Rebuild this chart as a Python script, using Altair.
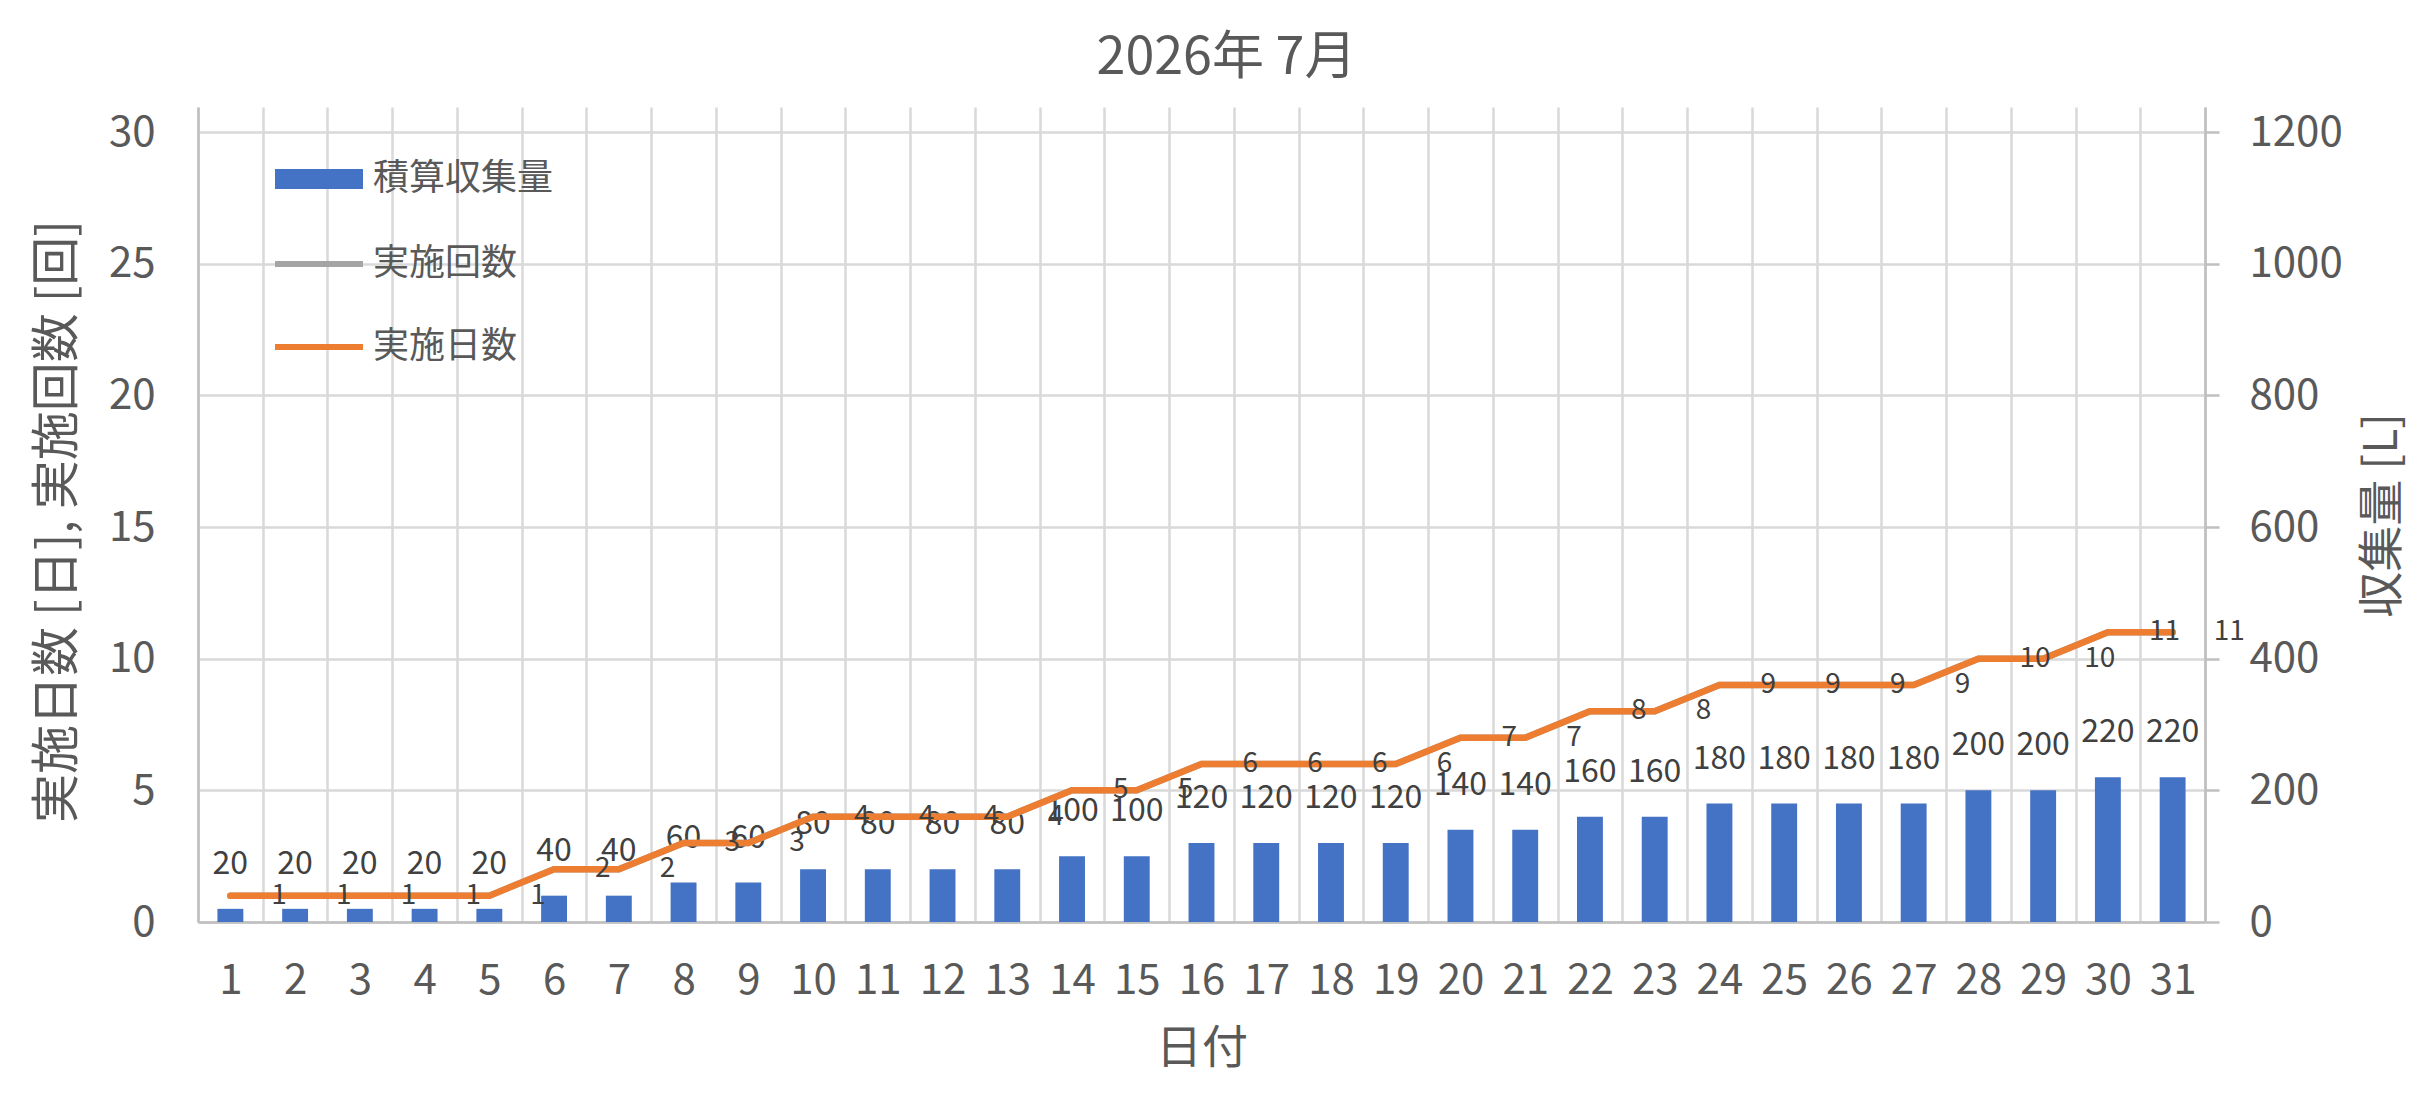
import altair as alt
import pandas as pd

# ---- data ----
days = list(range(1, 32))
cumulative_L = [20, 20, 20, 20, 20, 40, 40, 60, 60, 80, 80, 80, 80, 100, 100,
                120, 120, 120, 120, 140, 140, 160, 160, 180, 180, 180, 180,
                200, 200, 220, 220]
exec_count = [1, 1, 1, 1, 1, 2, 2, 3, 3, 4, 4, 4, 4, 5, 5, 6, 6, 6, 6, 7, 7,
              8, 8, 9, 9, 9, 9, 10, 10, 11, 11]
exec_days = [1, 1, 1, 1, 1, 2, 2, 3, 3, 4, 4, 4, 4, 5, 5, 6, 6, 6, 6, 7, 7,
             8, 8, 9, 9, 9, 9, 10, 10, 11, 11]
series_names = ["積算収集量", "実施回数", "実施日数"]
series_colors = ["#4472C4", "#A5A5A5", "#ED7D31"]
left_ticks = [0, 5, 10, 15, 20, 25, 30]
right_ticks = [0, 200, 400, 600, 800, 1000, 1200]

df = pd.DataFrame({
    "日付": days,
    "積算収集量": cumulative_L,
    "実施回数": exec_count,
    "実施日数": exec_days,
})

FONT = "Noto Sans CJK JP"
TXT = "#595959"
LBL = "#404040"

x_enc = alt.X(
    "日付:O",
    sort=days,
    scale=alt.Scale(paddingInner=0, paddingOuter=0),
    axis=alt.Axis(
        title="日付", labelAngle=0, tickBand="extent", ticks=False,
        grid=True, gridColor="#D9D9D9", gridWidth=2.5,
        domainColor="#BFBFBF", domainWidth=2.5,
        labelPadding=38, labelFontSize=42, labelColor=TXT, labelFont=FONT,
        titleFontSize=46, titleColor=TXT, titleFont=FONT, titleFontWeight="normal",
        titleY=126, titleBaseline="middle",
    ),
)

bar_legend = alt.Legend(
    title=None, orient="none", legendX=77, legendY=28, padding=0,
    symbolType="M-1,-0.227H1V0.227H-1Z", symbolSize=7744, symbolStrokeWidth=0,
    symbolOpacity=1, labelLimit=400,
    labelFont=FONT, labelFontSize=36, labelColor=TXT, labelOffset=10,
)
line_legend = alt.Legend(
    title=None, orient="none", legendX=74, legendY=110, padding=0,
    symbolType="stroke", symbolSize=7744, symbolStrokeWidth=6, symbolOpacity=1,
    labelFont=FONT, labelFontSize=36, labelColor=TXT, labelOffset=7,
    rowPadding=18, labelLimit=400,
)

right_scale = alt.Scale(domain=[0, 1238], nice=False, zero=True)
right_axis = alt.Axis(
    orient="right", values=right_ticks, format="d", grid=False,
    ticks=True, tickSize=14, tickColor="#BFBFBF", tickWidth=2.5,
    domainColor="#BFBFBF", domainWidth=2.5,
    labelPadding=30, labelFontSize=42, labelColor=TXT, labelFont=FONT,
    title="収集量 [L]", titleFontSize=46, titleColor=TXT, titleFont=FONT,
    titleFontWeight="normal", titleAngle=270, titleX=177, titleY=408,
    titleBaseline="middle", titleAlign="center",
)

bars = alt.Chart(df).transform_calculate(series=f"'{series_names[0]}'").mark_bar(
    width={"band": 0.4}
).encode(
    x=x_enc,
    y=alt.Y("積算収集量:Q", scale=right_scale, axis=right_axis),
    color=alt.Color("series:N",
                    scale=alt.Scale(domain=series_names[:1], range=series_colors[:1]),
                    legend=bar_legend),
)

bar_labels = alt.Chart(df).mark_text(
    baseline="alphabetic", dy=-35, fontSize=32, font=FONT, color=LBL
).encode(
    x=x_enc,
    y=alt.Y("積算収集量:Q", scale=right_scale, axis=right_axis),
    text="積算収集量:Q",
)

bar_layer = alt.layer(bars, bar_labels)

left_axis = alt.Axis(
    orient="left", values=left_ticks, grid=True, gridColor="#D9D9D9", gridWidth=2.5,
    ticks=False, tickSize=0, domainColor="#BFBFBF", domainWidth=2.5,
    labelPadding=43, labelFontSize=42, labelColor=TXT, labelFont=FONT,
    title="実施日数 [日], 実施回数 [回]", titleFontSize=49, titleColor=TXT,
    titleFont=FONT, titleFontWeight="normal", titleAngle=270, titleX=-141,
    titleY=414, titleBaseline="middle", titleAlign="center",
)
left_scale = alt.Scale(domain=[0, 30.95], nice=False, zero=True)
stroke_scale = alt.Scale(domain=series_names[1:], range=series_colors[1:])

gray_line = alt.Chart(df).transform_calculate(series=f"'{series_names[1]}'").mark_line(
    strokeWidth=6.5, strokeCap="round"
).encode(
    x=x_enc,
    y=alt.Y("実施回数:Q", scale=left_scale, axis=left_axis),
    stroke=alt.Stroke("series:N", scale=stroke_scale, legend=line_legend),
)

orange_line = alt.Chart(df).transform_calculate(series=f"'{series_names[2]}'").mark_line(
    strokeWidth=6.5, strokeCap="round"
).encode(
    x=x_enc,
    y=alt.Y("実施日数:Q", scale=left_scale, axis=left_axis),
    stroke=alt.Stroke("series:N", scale=stroke_scale, legend=line_legend),
)

line_labels = alt.Chart(df).mark_text(
    align="left", baseline="middle", dx=41, fontSize=28, font=FONT, color=LBL
).encode(
    x=x_enc,
    y=alt.Y("実施回数:Q", scale=left_scale, axis=left_axis),
    text="実施回数:Q",
)

line_layer = alt.layer(gray_line, orange_line, line_labels)

chart = alt.layer(bar_layer, line_layer).resolve_scale(
    y="independent"
).properties(
    width=2007,
    height=815,
    autosize=alt.AutoSizeParams(type="none"),
    padding={"left": 190, "top": 99, "right": 208, "bottom": 175},
    title=alt.TitleParams(
        "2026年 7月", fontSize=52, color=TXT, font=FONT, fontWeight="normal",
        anchor="middle", frame="group", dx=25, dy=54, offset=35, baseline="alphabetic",
    ),
    background="white",
).configure_view(stroke=None)

chart.save("out.html", embed_options={"renderer": "svg", "actions": False})
